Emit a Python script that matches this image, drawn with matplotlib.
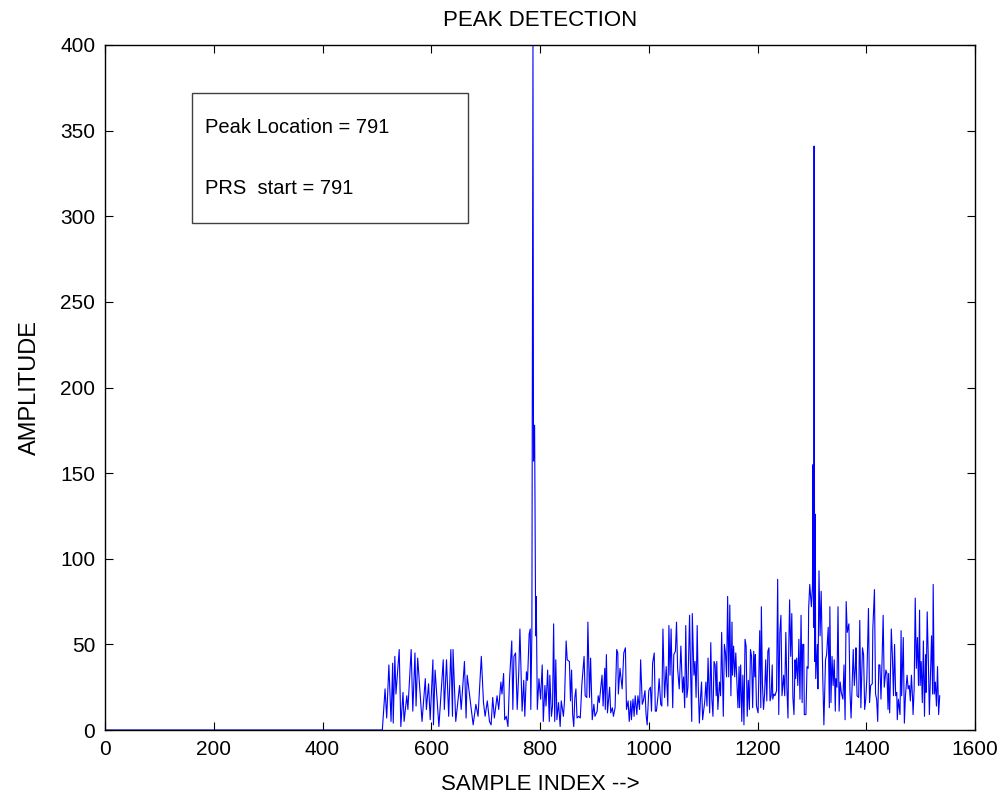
import matplotlib
matplotlib.use('Agg')
from matplotlib import pyplot as plt
from matplotlib.patches import Rectangle

# sample index / amplitude
sample_idx = [
   1, 510, 515, 518, 522, 526, 529, 530, 533, 535, 541, 544, 548, 550, 555, 557,
   563, 566, 570, 572, 575, 583, 589, 591, 595, 598, 603, 604, 607, 614, 622, 624,
   628, 632, 636, 639, 640, 645, 652, 655, 661, 664, 666, 677, 682, 686, 692, 696,
   699, 703, 707, 710, 713, 716, 721, 724, 728, 730, 733, 735, 738, 741, 744, 748,
   750, 752, 755, 758, 761, 763, 767, 770, 772, 775, 777, 780, 782, 783, 785, 787,
   788, 790, 792, 793, 795, 798, 801, 804, 806, 809, 811, 814, 817, 818, 821, 823,
   825, 827, 829, 831, 834, 837, 839, 843, 845, 848, 850, 854, 856, 858, 860, 862,
   864, 866, 868, 871, 874, 877, 881, 883, 886, 888, 891, 893, 896, 899, 901, 905,
   907, 909, 914, 916, 919, 920, 922, 924, 928, 930, 933, 935, 938, 941, 943, 944,
   947, 951, 954, 957, 959, 962, 964, 967, 968, 971, 973, 975, 978, 980, 983, 985,
   988, 990, 993, 995, 997, 1000, 1003, 1005, 1007, 1010, 1012, 1014, 1017, 1019, 1022, 1024,
   1026, 1029, 1032, 1035, 1037, 1039, 1041, 1044, 1046, 1049, 1051, 1053, 1056, 1059, 1062, 1064,
   1066, 1068, 1070, 1072, 1075, 1077, 1079, 1080, 1083, 1085, 1087, 1089, 1091, 1093, 1095, 1097,
   1099, 1103, 1105, 1107, 1109, 1112, 1114, 1116, 1118, 1120, 1122, 1124, 1125, 1127, 1130, 1132,
   1134, 1137, 1139, 1141, 1143, 1145, 1147, 1149, 1151, 1153, 1154, 1156, 1158, 1160, 1162, 1164,
   1166, 1167, 1169, 1171, 1173, 1175, 1177, 1179, 1181, 1183, 1185, 1187, 1189, 1191, 1193, 1195,
   1196, 1198, 1201, 1204, 1206, 1207, 1209, 1211, 1213, 1215, 1217, 1219, 1221, 1223, 1225, 1227,
   1228, 1230, 1232, 1235, 1237, 1239, 1241, 1243, 1245, 1248, 1250, 1252, 1254, 1256, 1257, 1259,
   1261, 1263, 1265, 1267, 1269, 1270, 1272, 1274, 1276, 1278, 1280, 1282, 1283, 1285, 1286, 1289,
   1291, 1293, 1294, 1296, 1299, 1301, 1302, 1303, 1304, 1305, 1306, 1307, 1308, 1310, 1311, 1313,
   1315, 1317, 1320, 1322, 1325, 1327, 1330, 1332, 1333, 1335, 1337, 1339, 1341, 1343, 1344, 1346,
   1348, 1350, 1352, 1354, 1357, 1359, 1361, 1363, 1365, 1368, 1370, 1372, 1374, 1376, 1378, 1380,
   1381, 1383, 1386, 1388, 1390, 1393, 1395, 1397, 1399, 1401, 1404, 1406, 1408, 1411, 1412, 1415,
   1417, 1419, 1421, 1423, 1425, 1427, 1429, 1431, 1433, 1436, 1438, 1440, 1441, 1443, 1446, 1448,
   1450, 1452, 1454, 1456, 1457, 1459, 1462, 1464, 1465, 1468, 1470, 1472, 1475, 1477, 1479, 1481,
   1483, 1485, 1486, 1488, 1490, 1492, 1494, 1496, 1498, 1499, 1501, 1503, 1505, 1507, 1509, 1510,
   1512, 1514, 1516, 1518, 1520, 1522, 1523, 1525, 1527, 1529, 1531, 1533, 1535]

amplitude = [
   0, 0, 24, 7, 38, 5, 39, 4, 43, 21, 47, 2, 22, 5, 20, 12,
   47, 11, 45, 14, 42, 5, 30, 12, 27, 6, 41, 3, 35, 2, 41, 12,
   41, 8, 47, 8, 47, 5, 26, 12, 40, 7, 32, 3, 15, 8, 43, 16,
   8, 17, 5, 3, 19, 7, 20, 12, 28, 21, 33, 6, 8, 2, 30, 52,
   12, 43, 45, 12, 35, 59, 11, 29, 8, 34, 29, 56, 59, 12, 57, 400,
   157, 178, 55, 78, 12, 30, 18, 38, 5, 26, 14, 35, 5, 32, 8, 14,
   62, 5, 41, 6, 16, 2, 17, 8, 17, 52, 41, 40, 17, 35, 9, 2,
   19, 24, 7, 8, 7, 27, 43, 20, 19, 63, 19, 42, 6, 15, 8, 11,
   20, 16, 32, 14, 36, 12, 44, 10, 25, 10, 13, 8, 13, 47, 45, 21,
   36, 24, 45, 48, 12, 17, 5, 17, 6, 18, 8, 20, 9, 20, 12, 41,
   15, 17, 23, 9, 3, 23, 25, 11, 39, 45, 11, 11, 20, 30, 15, 14,
   59, 19, 37, 14, 61, 32, 59, 13, 44, 46, 63, 36, 24, 49, 22, 31,
   13, 61, 19, 25, 67, 32, 5, 68, 32, 40, 19, 61, 25, 4, 18, 28,
   6, 17, 28, 14, 42, 10, 51, 18, 8, 40, 38, 20, 40, 12, 28, 20,
   57, 8, 50, 45, 31, 78, 31, 73, 20, 63, 32, 49, 31, 45, 28, 13,
   37, 13, 38, 5, 32, 3, 53, 49, 8, 29, 12, 47, 43, 13, 46, 31,
   44, 14, 10, 58, 13, 72, 27, 12, 21, 41, 17, 46, 48, 17, 20, 38,
   18, 21, 20, 23, 88, 9, 57, 67, 20, 32, 20, 57, 24, 7, 40, 76,
   43, 68, 19, 9, 41, 30, 42, 26, 53, 18, 67, 16, 50, 50, 9, 9,
   37, 36, 71, 85, 72, 84, 155, 60, 341, 40, 126, 30, 37, 50, 24, 93,
   55, 81, 30, 3, 41, 44, 60, 13, 72, 16, 43, 26, 41, 11, 30, 25,
   72, 11, 28, 22, 18, 38, 6, 75, 57, 62, 22, 7, 28, 47, 26, 37,
   48, 20, 19, 64, 13, 48, 44, 12, 18, 30, 71, 16, 26, 27, 59, 82,
   21, 18, 5, 38, 38, 18, 41, 67, 25, 35, 33, 12, 33, 10, 59, 43,
   20, 50, 20, 22, 6, 18, 9, 58, 20, 54, 4, 20, 32, 24, 26, 17,
   32, 19, 9, 24, 77, 36, 54, 26, 70, 26, 40, 16, 52, 8, 44, 22,
   69, 42, 9, 33, 55, 21, 85, 21, 28, 14, 37, 9, 20]

x_ticks = [0, 200, 400, 600, 800, 1000, 1200, 1400, 1600]
y_ticks = [0, 50, 100, 150, 200, 250, 300, 350, 400]
peak_location = 791
prs_start = 791

plt.rcParams['font.family'] = ['Liberation Sans', 'DejaVu Sans']

fig = plt.figure(figsize=(10.05, 8.0), dpi=100)
ax = fig.add_axes([0.1045, 0.0875, 0.8657, 0.85625])

ax.plot(sample_idx, amplitude, color='#0000ff', linewidth=0.8)

ax.set_xlim(0, 1600)
ax.set_ylim(0, 400)
ax.set_xticks(x_ticks)
ax.set_yticks(y_ticks)
ax.tick_params(direction='in', top=True, right=True, length=6, width=0.8, labelsize=15, pad=7)
for s in ax.spines.values():
   s.set_linewidth(1.0)

ax.set_title('PEAK DETECTION', fontsize=16, pad=14)
ax.set_xlabel('SAMPLE INDEX -->', fontsize=16, labelpad=11)
ax.set_ylabel('AMPLITUDE', fontsize=17, labelpad=14)

# annotation box, matlab style
box = Rectangle((0.1, 0.74), 0.317, 0.19, transform=ax.transAxes, fill=True,
                facecolor='white', edgecolor='#404040', linewidth=1.0, zorder=3)
ax.add_patch(box)
ax.text(0.115, 0.879, 'Peak Location = %d' % peak_location, transform=ax.transAxes,
        fontsize=14.5, va='center', zorder=4)
ax.text(0.115, 0.791, 'PRS  start = %d' % prs_start, transform=ax.transAxes,
        fontsize=14.5, va='center', zorder=4)

fig.savefig('out.png', dpi=100, facecolor='white')
